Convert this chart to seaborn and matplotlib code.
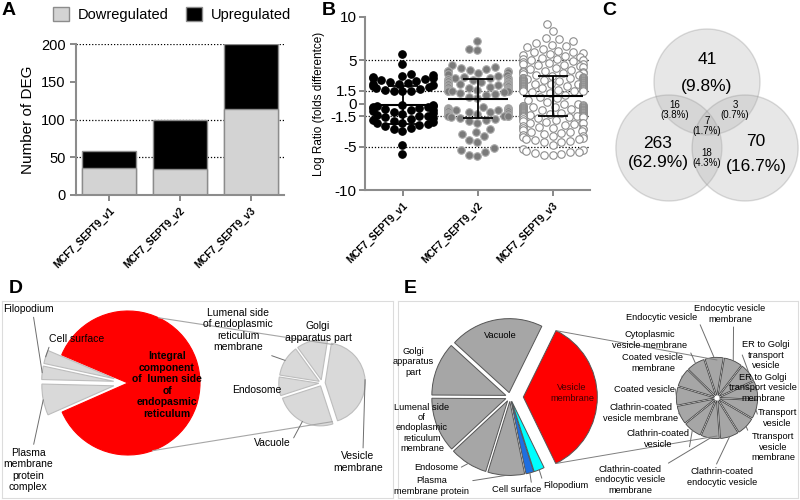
import warnings
import numpy as np
import pandas as pd
import seaborn as sns
import matplotlib.pyplot as plt
from matplotlib.patches import Circle

warnings.filterwarnings('ignore')

sns.set_style('ticks')
plt.rcParams['font.family'] = ['Liberation Sans', 'DejaVu Sans']
plt.rcParams.update({'text.color': 'black', 'axes.labelcolor': 'black',
                     'xtick.color': 'black', 'ytick.color': 'black'})

samples = ['MCF7_SEPT9_v1', 'MCF7_SEPT9_v2', 'MCF7_SEPT9_v3']

# A : nombre de DEG
down_deg = [36, 34, 114]
up_deg = [22, 65, 86]

# B : log ratio par gene
v1_ratio = [5.7, 4.6, 3.4, 3.3, 3.2, 3.1, 3.0, 2.9, 2.8, 2.7, 2.6, 2.5, 2.4, 2.3, 2.2, 2.1,
            2.0, 1.9, 1.8, 1.7, 1.6, 1.5, 1.5, 1.4,
            -0.2, -0.2, -0.3, -0.3, -0.4, -0.4, -0.5, -0.5, -0.6, -0.7, -0.8, -0.9, -1.0,
            -1.1, -1.2, -1.3, -1.4, -1.5, -1.6, -1.7, -1.8, -1.9, -2.0, -2.1, -2.2, -2.3,
            -2.4, -2.5, -2.6, -2.8, -3.0, -3.2, -4.8, -5.8]
v2_ratio = [7.2, 6.3, 6.2,
            4.4, 4.2, 4.1, 4.0, 3.9, 3.8, 3.8, 3.7, 3.6, 3.5, 3.4, 3.3, 3.2, 3.1,
            3.0, 2.9, 2.9, 2.8, 2.7, 2.7, 2.6, 2.6, 2.5, 2.5, 2.4, 2.4, 2.3, 2.3, 2.2, 2.2,
            2.1, 2.1, 2.0, 2.0, 1.9, 1.9, 1.8, 1.8, 1.7, 1.7, 1.6, 1.6, 1.6, 1.5, 1.5, 1.5,
            1.4, 1.4, 1.3, 1.2, 1.1,
            1.0, 0.8, 0.6,
            -0.4, -0.5, -0.5, -0.6, -0.6, -0.7, -0.7, -0.8, -0.8, -0.9, -0.9, -1.0, -1.0,
            -1.1, -1.1, -1.2, -1.2, -1.3, -1.3, -1.4, -1.4, -1.5, -1.5, -1.6, -1.7, -1.8,
            -1.9, -2.0, -2.2,
            -3.0, -3.3, -3.5, -3.7, -4.2, -4.4, -5.2, -5.4, -5.6, -5.9, -6.1]
v3_ratio = [9.2, 8.4, 7.6, 7.4, 7.2, 7.0, 6.8, 6.6, 6.5, 6.3, 6.1, 6.0,
            5.9, 5.8, 5.7, 5.6, 5.5, 5.4, 5.3, 5.2, 5.1, 5.0, 5.0,
            4.9, 4.8, 4.7, 4.6, 4.6, 4.5, 4.4, 4.3, 4.2, 4.1, 4.0,
            3.9, 3.8, 3.7, 3.6, 3.6, 3.5, 3.5, 3.4, 3.3, 3.3, 3.2, 3.1, 3.0, 3.0,
            2.95, 2.9, 2.9, 2.9, 2.85, 2.8, 2.8, 2.75, 2.7, 2.7, 2.65, 2.6, 2.6, 2.6, 2.55,
            2.5, 2.5, 2.45, 2.4, 2.4, 2.35, 2.3, 2.3, 2.3, 2.25, 2.2, 2.2, 2.15, 2.1, 2.1,
            2.05, 2.0, 2.0, 2.0, 1.95, 1.9, 1.9, 1.85, 1.8, 1.8, 1.75, 1.7, 1.7, 1.7, 1.65,
            1.6, 1.6, 1.55, 1.5, 1.5,
            1.4, 1.3, 1.2, 1.0, 0.8, 0.6, 0.4, 0.2, 0.0, -0.1,
            -0.2, -0.25, -0.3, -0.3, -0.35, -0.4, -0.4, -0.45, -0.5, -0.5, -0.5, -0.55, -0.6,
            -0.6, -0.6, -0.65, -0.7, -0.7, -0.75, -0.8, -0.8, -0.8, -0.85, -0.9, -0.9, -0.9,
            -0.95, -1.0, -1.0, -1.05, -1.1, -1.1, -1.1, -1.15, -1.2, -1.2, -1.25, -1.3, -1.3,
            -1.35, -1.4, -1.4, -1.4, -1.45, -1.5, -1.5, -1.55, -1.6, -1.6, -1.7,
            -1.8, -1.9, -2.0, -2.1, -2.2, -2.2, -2.3, -2.4, -2.5, -2.6, -2.7, -2.8, -2.8, -2.9,
            -3.0, -3.1, -3.2, -3.3, -3.3, -3.4, -3.5,
            -3.6, -3.7, -3.8, -3.9, -4.0, -4.1, -4.1, -4.2, -4.3, -4.4, -4.5, -4.8,
            -5.3, -5.4, -5.5, -5.6, -5.6, -5.7, -5.8, -5.9, -6.0]
b_mean = [-0.2, 0.55, 0.87]
b_sd = [2.2, 2.25, 2.3]

# C : diagramme de Venn (haut, gauche, droite, haut+gauche, haut+droite, les trois, gauche+droite)
venn_counts = [41, 263, 70, 16, 3, 7, 18]

# D
d_main_labels = ['Cell surface', 'Filopodium', 'Plasma\nmembrane\nprotein\ncomplex',
                 'Integral\ncomponent\nof  lumen side\nof\nendopasmic\nreticulum']
d_main_values = [3, 3, 7, 87]
d_sub_labels = ['Vesicle\nmembrane', 'Golgi\napparatus part',
                'Lumenal side\nof endoplasmic\nreticulum\nmembrane', 'Endosome', 'Vacuole']
d_sub_values = [17, 5, 5, 3, 10]

# E
e_main_labels = ['Vesicle\nmembrane', 'Vacuole', 'Golgi\napparatus\npart',
                 'Lumenal side\nof\nendoplasmic\nreticulum\nmembrane', 'Endosome',
                 'Plasma\nmembrane protein', 'Cell surface', 'Filopodium']
e_main_values = [35.5, 20.5, 11.7, 12.0, 8.3, 8.0, 1.7, 2.3]
e_sub_labels = ['Endocytic vesicle', 'Endocytic vesicle\nmembrane', 'ER to Golgi\ntransport\nvesicle',
                'ER to Golgi\ntransport vesicle\nmembrane', 'Transport\nvesicle',
                'Ttransport\nvesicle\nmembrane', 'Clathrin-coated\nendocytic vesicle',
                'Clathrin-coated\nendocytic vesicle\nmembrane', 'Clathrin-coated\nvesicle',
                'Clathrin-coated\nvesicle membrane', 'Coated vesicle', 'Coated vesicle\nmembrane',
                'Cytoplasmic\nvesicle membrane']
e_sub_values = [1, 1, 1, 1, 1, 1, 1, 1, 1, 1, 1, 1, 1]

fig = plt.figure(figsize=(8, 5), dpi=100)


def P(x, y):
    # pixel de l'image -> coordonnees (y vers le haut)
    return (x, 500 - y)


def tip(w, k=1.0):
    a = np.deg2rad((w.theta1 + w.theta2) / 2)
    return (w.center[0] + k * w.r * np.cos(a), w.center[1] + k * w.r * np.sin(a))


def rim(w, ang):
    a = np.deg2rad(ang)
    return (w.center[0] + w.r * np.cos(a), w.center[1] + w.r * np.sin(a))


def label(ax, txt, pos, w=None, rel=(0.5, 0.5), size=7.5, **kw):
    if w is None:
        ax.text(*P(*pos), txt, ha='center', va='center', fontsize=size, **kw)
    else:
        ax.annotate(txt, xy=tip(w), xytext=P(*pos), ha='center', va='center', fontsize=size,
                    arrowprops=dict(arrowstyle='-', color='#6e6e6e', lw=0.7, shrinkA=0,
                                    shrinkB=0, relpos=rel), **kw)


# ---------- A ----------
axA = fig.add_axes([76 / 800, 305 / 500, 208 / 800, 151 / 500])
a_df = pd.DataFrame({'sample': samples, 'down': down_deg, 'up': up_deg})
a_df['total'] = a_df['down'] + a_df['up']
for y in [50, 100, 200]:
    axA.axhline(y, color='black', ls=(0, (1, 1.5)), lw=0.9, zorder=0)
sns.barplot(data=a_df, x='sample', y='total', color='black', saturation=1, width=0.76,
            edgecolor='#8c8c8c', linewidth=1, label='Upregulated', ax=axA, zorder=2)
sns.barplot(data=a_df, x='sample', y='down', color='#d3d3d3', saturation=1, width=0.76,
            edgecolor='#8c8c8c', linewidth=1, label='Dowregulated', ax=axA, zorder=2)
h, l = axA.get_legend_handles_labels()
if axA.get_legend() is not None:
    axA.get_legend().remove()
axA.set_xlim(-0.465, 2.465)
axA.set_ylim(0, 200)
axA.set_yticks([0, 50, 100, 150, 200])
axA.set_xlabel('')
axA.set_ylabel('Number of DEG', fontsize=11)
axA.tick_params(axis='y', labelsize=10.5, color='#7f7f7f', width=1.3, length=4)
axA.tick_params(axis='x', color='#7f7f7f', width=1.3, length=4)
plt.setp(axA.get_xticklabels(), rotation=45, ha='right', rotation_mode='anchor',
         fontsize=7.2, fontweight='bold')
sns.despine(ax=axA)
for sp in ['left', 'bottom']:
    axA.spines[sp].set_color('#8c8c8c')
    axA.spines[sp].set_linewidth(1.5)
fig.legend(h[::-1], l[::-1], loc='upper center', bbox_to_anchor=(0.215, 1.012), ncol=2,
           frameon=False, fontsize=10.5, handlelength=1.1, handleheight=1.1,
           handletextpad=0.6, columnspacing=1.2)

# ---------- B ----------
axB = fig.add_axes([365 / 800, 310 / 500, 225 / 800, 173 / 500])
b_df = pd.DataFrame({'sample': np.repeat(samples, [len(v1_ratio), len(v2_ratio), len(v3_ratio)]),
                     'ratio': v1_ratio + v2_ratio + v3_ratio})
for y in [5, 1.5, -1.5, -5]:
    axB.axhline(y, color='black', ls=(0, (1, 1.5)), lw=0.9, zorder=0)
styles = [('black', 'black'), ('#7a7a7a', '#a8a8a8'), ('white', '#8c8c8c')]
for s, (fc, ec) in zip(samples, styles):
    sns.swarmplot(data=b_df[b_df['sample'] == s], x='sample', y='ratio', order=samples,
                  color=fc, edgecolor=ec, linewidth=0.8, size=5.4, ax=axB, zorder=3)
xs = np.arange(len(samples))
axB.hlines(b_mean, xs - 0.4, xs + 0.4, color='black', lw=1.5, zorder=4)
axB.errorbar(xs, b_mean, yerr=b_sd, fmt='none', ecolor='black', elinewidth=1.3,
             capsize=11, capthick=1.3, zorder=4)
axB.set_xlim(-0.5, 2.5)
axB.set_ylim(-10, 10)
axB.set_yticks([-10, -5, -1.5, 0, 1.5, 5, 10])
axB.set_yticklabels(['-10', '-5', '-1.5', '0', '1.5', '5', '10'])
axB.set_xlabel('')
axB.set_ylabel('Log Ratio (folds differentce)', fontsize=8.5)
axB.tick_params(axis='y', labelsize=11, color='#7f7f7f', width=1.3, length=4, pad=2)
axB.tick_params(axis='x', color='#7f7f7f', width=1.3, length=4)
plt.setp(axB.get_xticklabels(), rotation=45, ha='right', rotation_mode='anchor',
         fontsize=7.2, fontweight='bold')
sns.despine(ax=axB)
for sp in ['left', 'bottom']:
    axB.spines[sp].set_color('#8c8c8c')
    axB.spines[sp].set_linewidth(1.5)

# ---------- C ----------
axC = fig.add_axes([590 / 800, 230 / 500, 210 / 800, 270 / 500])
venn_c = (707, 374)
for ang in [90, 210, 330]:
    cx = venn_c[0] + 44 * np.cos(np.deg2rad(ang))
    cy = venn_c[1] + 44 * np.sin(np.deg2rad(ang))
    axC.add_patch(Circle((cx, cy), 53, fc='#b0b0b0', ec='#8a8a8a', lw=1, alpha=0.3))
total = sum(venn_counts)
pct = ['(%.1f%%)' % (100 * c / total) for c in venn_counts]
big_pos = [(707, 60, 87), (658, 143, 163), (756, 141, 166)]
for i, (x, y1, y2) in enumerate(big_pos):
    axC.text(*P(x, y1), str(venn_counts[i]), ha='center', va='center', fontsize=12.5)
    axC.text(*P(x, y2), pct[i], ha='center', va='center', fontsize=12.5)
small_pos = [(675, 110), (735, 110), (707, 126), (707, 158)]
for i, (x, y) in enumerate(small_pos):
    axC.text(*P(x, y), '%d\n%s' % (venn_counts[i + 3], pct[i + 3]), ha='center', va='center',
             fontsize=7, linespacing=1.05)
axC.set_xlim(590, 800)
axC.set_ylim(230, 500)
axC.set_aspect('equal')
axC.axis('off')

# ---------- D ----------
axD = fig.add_axes([2 / 800, 2 / 500, 391 / 800, 197 / 500])
rd, rd2 = 72, 40
wd, _ = axD.pie(d_main_values, center=P(128, 383), radius=rd, startangle=157,
                colors=['#d9d9d9', '#d9d9d9', '#d9d9d9', '#ff0000'],
                explode=[0.2 * rd, 0.2 * rd, 0.2 * rd, 0], frame=True,
                wedgeprops=dict(edgecolor='#bdbdbd', linewidth=0.8))
wd[3].set_edgecolor('#ff0000')
wd2, _ = axD.pie(d_sub_values, center=P(322, 383), radius=rd2, startangle=-72,
                 colors=['#d9d9d9'] * 5, explode=[0.08 * rd2] * 5, frame=True,
                 wedgeprops=dict(edgecolor='#bdbdbd', linewidth=0.8))
c2 = np.array(P(322, 383))
for a_big, a_small in [(65, 74), (-70, -75)]:
    p1 = rim(wd[3], a_big)
    p2 = c2 + rd2 * np.array([np.cos(np.deg2rad(a_small)), np.sin(np.deg2rad(a_small))])
    axD.plot([p1[0], p2[0]], [p1[1], p2[1]], color='#a6a6a6', lw=0.8)
label(axD, d_main_labels[0], (77, 339), wd[0], rel=(0.02, 0.1))
label(axD, d_main_labels[1], (28, 309), wd[1], rel=(0.6, 0))
label(axD, d_main_labels[2], (28, 470), wd[2], rel=(0.6, 1))
label(axD, d_main_labels[3], (167, 385), size=7.5, fontweight='bold')
label(axD, d_sub_labels[0], (358, 462), wd2[0], rel=(0.6, 1))
label(axD, d_sub_labels[1], (318, 332))
label(axD, d_sub_labels[2], (238, 330), wd2[2], rel=(0.85, 0))
label(axD, d_sub_labels[3], (257, 390))
label(axD, d_sub_labels[4], (272, 443), wd2[4], rel=(1, 0.4))
axD.set_xlim(2, 393)
axD.set_ylim(2, 199)
axD.set_xticks([])
axD.set_yticks([])
for sp in axD.spines.values():
    sp.set_color('#dcdcdc')

# ---------- E ----------
axE = fig.add_axes([398 / 800, 2 / 500, 400 / 800, 197 / 500])
re, re2 = 74, 38
e_colors = ['#ff0000'] + ['#a6a6a6'] * 5 + ['#1f6fe0', '#00ffff']
we, _ = axE.pie(e_main_values, center=P(510, 397), radius=re, startangle=-64,
                colors=e_colors, explode=[0.18 * re] + [0.06 * re] * 7, frame=True,
                wedgeprops=dict(edgecolor='#555555', linewidth=0.7))
ws, _ = axE.pie(e_sub_values, center=P(717, 398), radius=re2, startangle=108,
                counterclock=False, colors=['#a6a6a6'] * len(e_sub_values),
                explode=[0.07 * re2] * len(e_sub_values), frame=True,
                wedgeprops=dict(edgecolor='#444444', linewidth=0.6))
cs = np.array(P(717, 398))
for ang, dy in [(we[0].theta2, re2), (we[0].theta1, -re2)]:
    p1 = rim(we[0], ang)
    axE.plot([p1[0], cs[0]], [p1[1], cs[1] + dy], color='#7f7f7f', lw=0.7)
es = 6.7
label(axE, e_main_labels[0], (572, 393), size=es, color='#400000')
label(axE, e_main_labels[1], (500, 335), size=es)
label(axE, e_main_labels[2], (413, 362), size=es)
label(axE, e_main_labels[3], (422, 428), size=es)
label(axE, e_main_labels[4], (436, 468), we[4], rel=(1, 0.4), size=es)
label(axE, e_main_labels[5], (432, 486), we[5], rel=(1, 0.75), size=es)
label(axE, e_main_labels[6], (517, 490), we[6], rel=(0.8, 1), size=es)
label(axE, e_main_labels[7], (566, 486), we[7], rel=(0, 0.8), size=es)
sub_pos = [(662, 317), (730, 314), (766, 355), (763, 388), (777, 418), (773, 447), (722, 477),
           (630, 480), (658, 439), (641, 413), (645, 389), (653, 363), (650, 340)]
sub_rel = [(1, 0.3), (0.55, 0), (0, 0.5), (0, 0.6), (0, 0.7), (0, 0.8), (0.4, 1),
           (1, 1), (1, 0.1), (1, 0.5), (1, 0.5), (1, 0.3), (1, 0.2)]
for i in range(len(e_sub_labels)):
    label(axE, e_sub_labels[i], sub_pos[i], ws[i], rel=sub_rel[i], size=es)
axE.set_xlim(398, 798)
axE.set_ylim(2, 199)
axE.set_xticks([])
axE.set_yticks([])
for sp in axE.spines.values():
    sp.set_color('#dcdcdc')

# lettres des panneaux
for letter, x, y in [('A', 2, 2), ('B', 322, 2), ('C', 602, 2), ('D', 9, 280), ('E', 404, 280)]:
    fig.text(x / 800, 1 - y / 500, letter, fontsize=14, fontweight='bold', va='top', ha='left')

fig.savefig('out.png', dpi=100)
